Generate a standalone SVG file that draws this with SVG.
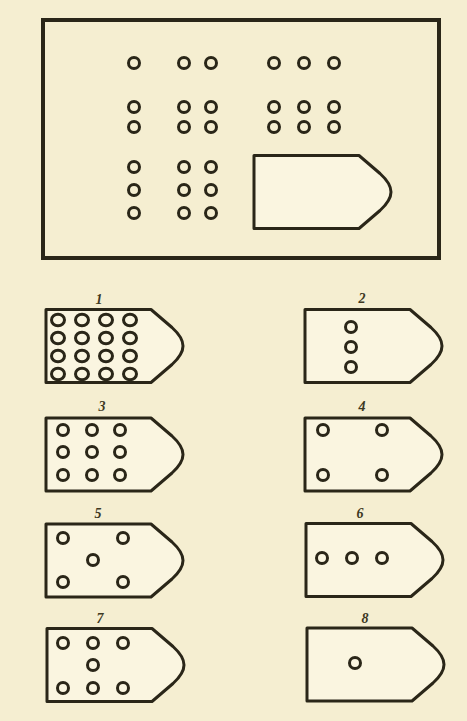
<svg xmlns="http://www.w3.org/2000/svg" xmlns:xlink="http://www.w3.org/1999/xlink" width="467" height="721" viewBox="0 0 467 721">
  <style>
    .bg { fill: #F5EED1; }
    .frame { fill: none; stroke: #2a2618; stroke-width: 4; }
    .tag { fill: #FAF5E0; stroke: #2a2618; stroke-width: 3; stroke-linejoin: round; }
    .h { fill: none; stroke: #2a2618; stroke-width: 3; }
    .lbl { font-family: "Liberation Serif", serif; font-style: italic; font-weight: bold; font-size: 14px; fill: #3d3822; text-anchor: middle; }
  </style>
  <defs>
    <path id="tagShape" class="tag" d="M0,0 H105 L126,18 Q137,28 137,36.5 Q137,45 126,55 L105,73 H0 Z"/>
  </defs>
  <rect class="bg" x="0" y="0" width="467" height="721"/>

  <g id="problem">
    <rect class="frame" x="43" y="20" width="396" height="238"/>
    <g id="problem-holes">
      <circle class="h" cx="134" cy="63" r="5.5"/>
      <circle class="h" cx="184" cy="63" r="5.5"/>
      <circle class="h" cx="211" cy="63" r="5.5"/>
      <circle class="h" cx="274" cy="63" r="5.5"/>
      <circle class="h" cx="304" cy="63" r="5.5"/>
      <circle class="h" cx="334" cy="63" r="5.5"/>

      <circle class="h" cx="134" cy="107" r="5.5"/>
      <circle class="h" cx="134" cy="127" r="5.5"/>
      <circle class="h" cx="184" cy="107" r="5.5"/>
      <circle class="h" cx="211" cy="107" r="5.5"/>
      <circle class="h" cx="184" cy="127" r="5.5"/>
      <circle class="h" cx="211" cy="127" r="5.5"/>
      <circle class="h" cx="274" cy="107" r="5.5"/>
      <circle class="h" cx="304" cy="107" r="5.5"/>
      <circle class="h" cx="334" cy="107" r="5.5"/>
      <circle class="h" cx="274" cy="127" r="5.5"/>
      <circle class="h" cx="304" cy="127" r="5.5"/>
      <circle class="h" cx="334" cy="127" r="5.5"/>

      <circle class="h" cx="134" cy="167" r="5.5"/>
      <circle class="h" cx="134" cy="190" r="5.5"/>
      <circle class="h" cx="134" cy="213" r="5.5"/>
      <circle class="h" cx="184" cy="167" r="5.5"/>
      <circle class="h" cx="211" cy="167" r="5.5"/>
      <circle class="h" cx="184" cy="190" r="5.5"/>
      <circle class="h" cx="211" cy="190" r="5.5"/>
      <circle class="h" cx="184" cy="213" r="5.5"/>
      <circle class="h" cx="211" cy="213" r="5.5"/>
    </g>
    <use xlink:href="#tagShape" href="#tagShape" transform="translate(254,155.5)"/>
  </g>

  <g id="option1">
    <text class="lbl" x="99" y="304">1</text>
    <use xlink:href="#tagShape" href="#tagShape" transform="translate(46,309.5)"/>
    <ellipse class="h" cx="58" cy="320" rx="6.5" ry="5.8"/>
    <ellipse class="h" cx="82" cy="320" rx="6.5" ry="5.8"/>
    <ellipse class="h" cx="106" cy="320" rx="6.5" ry="5.8"/>
    <ellipse class="h" cx="130" cy="320" rx="6.5" ry="5.8"/>
    <ellipse class="h" cx="58" cy="338" rx="6.5" ry="5.8"/>
    <ellipse class="h" cx="82" cy="338" rx="6.5" ry="5.8"/>
    <ellipse class="h" cx="106" cy="338" rx="6.5" ry="5.8"/>
    <ellipse class="h" cx="130" cy="338" rx="6.5" ry="5.8"/>
    <ellipse class="h" cx="58" cy="356" rx="6.5" ry="5.8"/>
    <ellipse class="h" cx="82" cy="356" rx="6.5" ry="5.8"/>
    <ellipse class="h" cx="106" cy="356" rx="6.5" ry="5.8"/>
    <ellipse class="h" cx="130" cy="356" rx="6.5" ry="5.8"/>
    <ellipse class="h" cx="58" cy="374" rx="6.5" ry="5.8"/>
    <ellipse class="h" cx="82" cy="374" rx="6.5" ry="5.8"/>
    <ellipse class="h" cx="106" cy="374" rx="6.5" ry="5.8"/>
    <ellipse class="h" cx="130" cy="374" rx="6.5" ry="5.8"/>
  </g>

  <g id="option2">
    <text class="lbl" x="362" y="303">2</text>
    <use xlink:href="#tagShape" href="#tagShape" transform="translate(305,309.5)"/>
    <circle class="h" cx="351" cy="327" r="5.5"/>
    <circle class="h" cx="351" cy="347" r="5.5"/>
    <circle class="h" cx="351" cy="367" r="5.5"/>
  </g>

  <g id="option3">
    <text class="lbl" x="102" y="411">3</text>
    <use xlink:href="#tagShape" href="#tagShape" transform="translate(46,418)"/>
    <circle class="h" cx="63" cy="430" r="5.5"/>
    <circle class="h" cx="92" cy="430" r="5.5"/>
    <circle class="h" cx="120" cy="430" r="5.5"/>
    <circle class="h" cx="63" cy="452" r="5.5"/>
    <circle class="h" cx="92" cy="452" r="5.5"/>
    <circle class="h" cx="120" cy="452" r="5.5"/>
    <circle class="h" cx="63" cy="475" r="5.5"/>
    <circle class="h" cx="92" cy="475" r="5.5"/>
    <circle class="h" cx="120" cy="475" r="5.5"/>
  </g>

  <g id="option4">
    <text class="lbl" x="362" y="411">4</text>
    <use xlink:href="#tagShape" href="#tagShape" transform="translate(305,418)"/>
    <circle class="h" cx="323" cy="430" r="5.5"/>
    <circle class="h" cx="382" cy="430" r="5.5"/>
    <circle class="h" cx="323" cy="475" r="5.5"/>
    <circle class="h" cx="382" cy="475" r="5.5"/>
  </g>

  <g id="option5">
    <text class="lbl" x="98" y="518">5</text>
    <use xlink:href="#tagShape" href="#tagShape" transform="translate(46,524)"/>
    <circle class="h" cx="63" cy="538" r="5.5"/>
    <circle class="h" cx="123" cy="538" r="5.5"/>
    <circle class="h" cx="93" cy="560" r="5.5"/>
    <circle class="h" cx="63" cy="582" r="5.5"/>
    <circle class="h" cx="123" cy="582" r="5.5"/>
  </g>

  <g id="option6">
    <text class="lbl" x="360" y="518">6</text>
    <use xlink:href="#tagShape" href="#tagShape" transform="translate(306,523.5)"/>
    <circle class="h" cx="322" cy="558" r="5.5"/>
    <circle class="h" cx="352" cy="558" r="5.5"/>
    <circle class="h" cx="382" cy="558" r="5.5"/>
  </g>

  <g id="option7">
    <text class="lbl" x="100" y="623">7</text>
    <use xlink:href="#tagShape" href="#tagShape" transform="translate(47,628.5)"/>
    <circle class="h" cx="63" cy="643" r="5.5"/>
    <circle class="h" cx="93" cy="643" r="5.5"/>
    <circle class="h" cx="123" cy="643" r="5.5"/>
    <circle class="h" cx="93" cy="665" r="5.5"/>
    <circle class="h" cx="63" cy="688" r="5.5"/>
    <circle class="h" cx="93" cy="688" r="5.5"/>
    <circle class="h" cx="123" cy="688" r="5.5"/>
  </g>

  <g id="option8">
    <text class="lbl" x="365" y="623">8</text>
    <use xlink:href="#tagShape" href="#tagShape" transform="translate(307,628)"/>
    <circle class="h" cx="355" cy="663" r="5.5"/>
  </g>

  <g id="connectors"></g>
</svg>
